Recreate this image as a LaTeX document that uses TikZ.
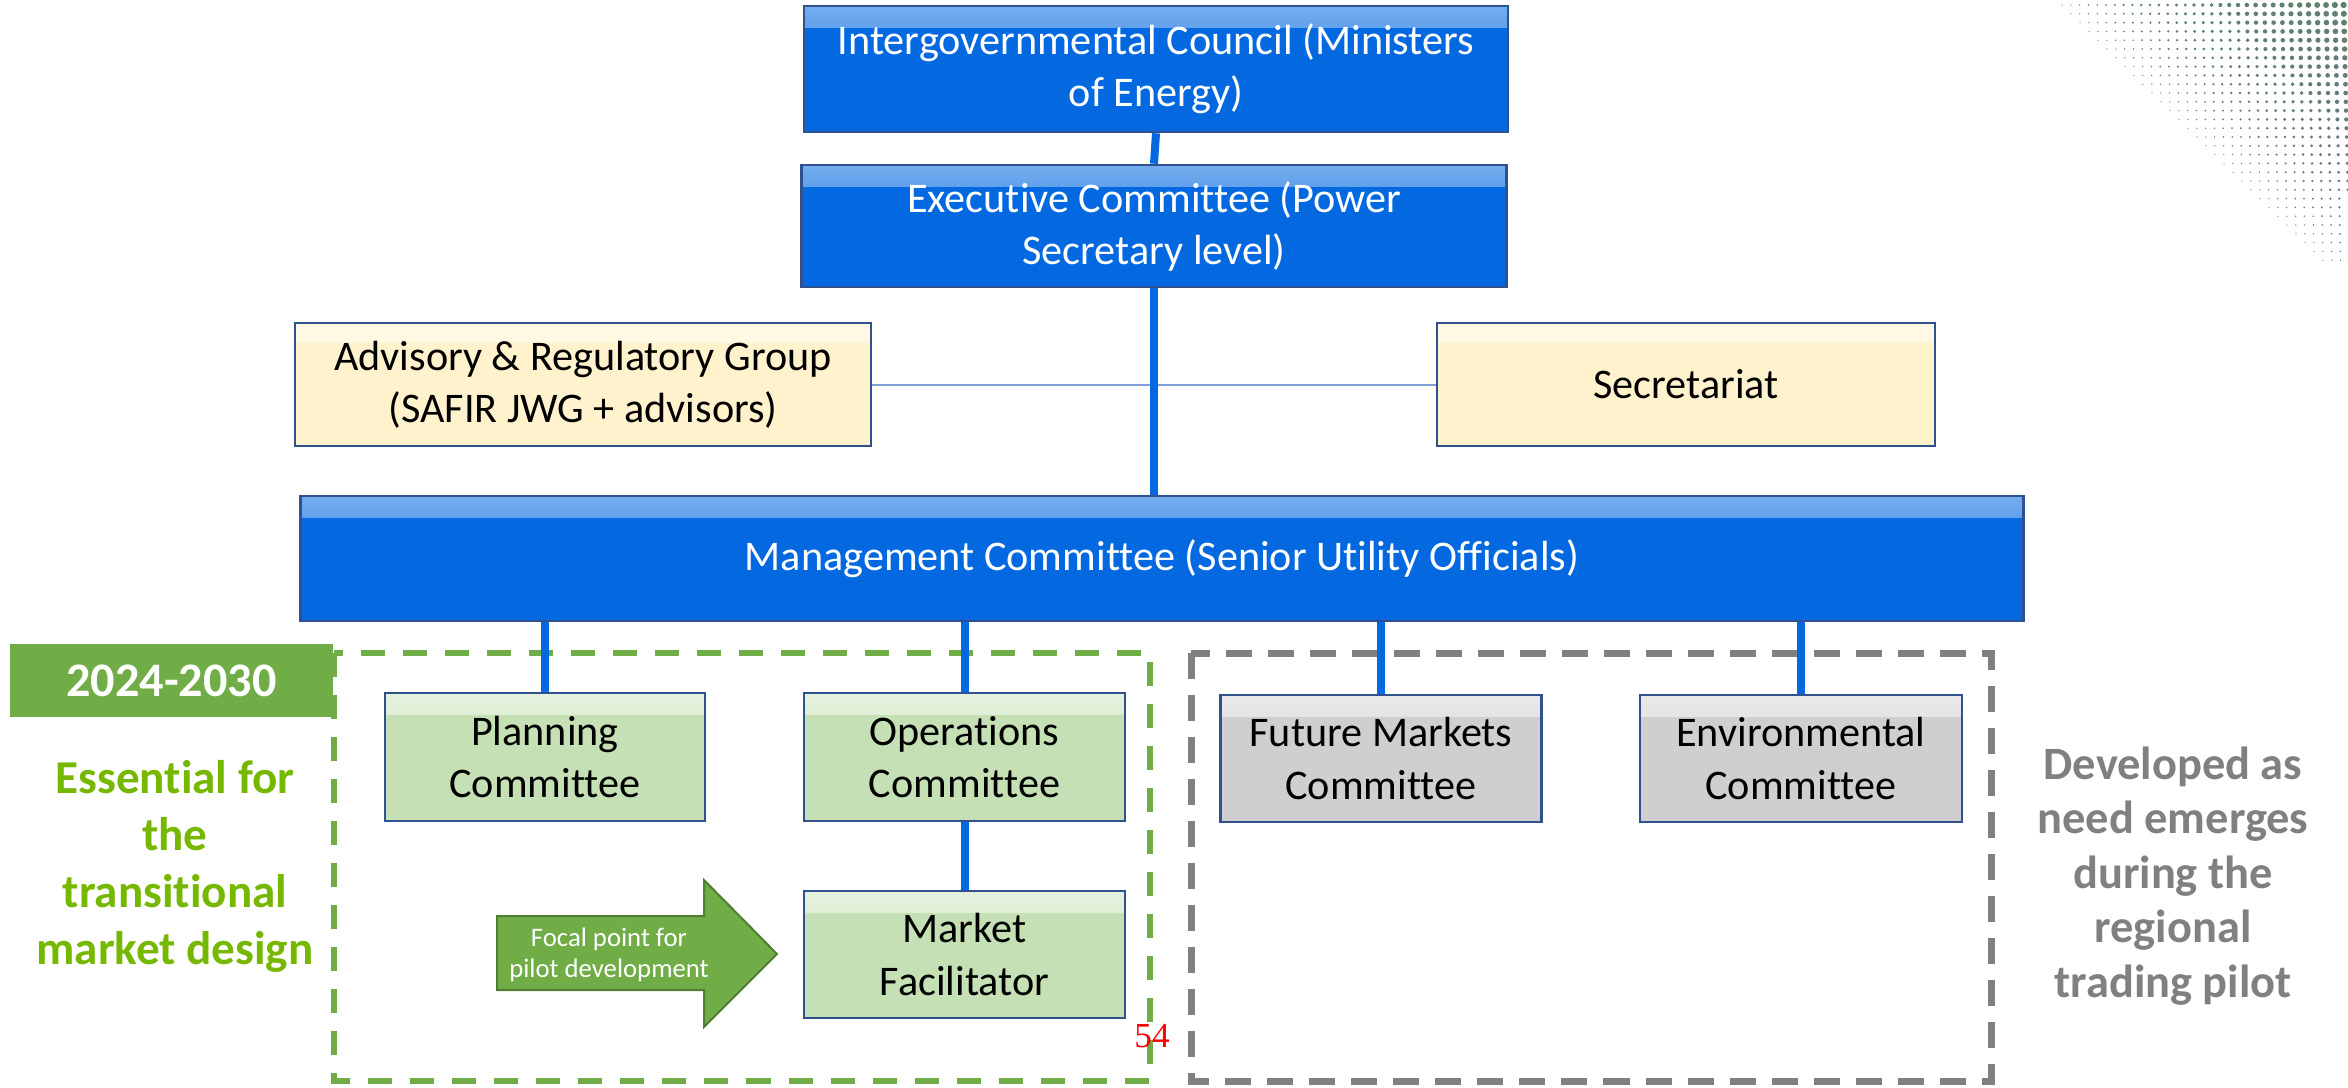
\documentclass[tikz,border=0pt]{standalone}
\usepackage{fontspec}
\setmainfont[Ligatures={CommonOff}]{Carlito}
\newfontfamily\pagenumfont{Liberation Serif}
\definecolor{mblue}{RGB}{4,105,224}
\definecolor{bdr}{RGB}{47,82,143}
\definecolor{yelf}{RGB}{255,242,204}
\definecolor{lgreen}{RGB}{197,224,180}
\definecolor{lgrey}{RGB}{208,206,206}
\definecolor{dgreen}{RGB}{112,173,71}
\definecolor{tgreen}{RGB}{118,184,0}
\definecolor{tgrey}{RGB}{128,128,128}
\definecolor{arrbdr}{RGB}{80,126,50}
\definecolor{thinc}{RGB}{125,158,215}
\definecolor{dotg}{RGB}{95,130,110}
\definecolor{dotb}{RGB}{110,115,150}
\tikzset{
  sz/.style 2 args={minimum width=#1cm, minimum height=#2cm},
  basebox/.style={draw=bdr, line width=0.025cm, align=center, inner sep=0pt,
    font=\fontsize{12}{14.8}\selectfont},
  bluebox/.style={basebox, fill=mblue, text=white,
    path picture={\shade[top color=mblue!55!white, bottom color=mblue]
      (path picture bounding box.north west) rectangle ([yshift=-0.22cm]path picture bounding box.north east);}},
  yelbox/.style={basebox, fill=yelf, text=black,
    path picture={\shade[top color=yelf!50!white, bottom color=yelf]
      (path picture bounding box.north west) rectangle ([yshift=-0.2cm]path picture bounding box.north east);}},
  greenbox/.style={basebox, fill=lgreen, text=black,
    path picture={\shade[top color=lgreen!45!white, bottom color=lgreen]
      (path picture bounding box.north west) rectangle ([yshift=-0.22cm]path picture bounding box.north east);}},
  greybox/.style={basebox, fill=lgrey, text=black,
    path picture={\shade[top color=lgrey!45!white, bottom color=lgrey]
      (path picture bounding box.north west) rectangle ([yshift=-0.22cm]path picture bounding box.north east);}},
  conn/.style={draw=mblue, line width=0.08cm},
  thinconn/.style={draw=thinc, line width=0.02cm},
  greenframe/.style={draw=dgreen, line width=0.06cm, dash pattern=on 0.24cm off 0.18cm},
  greyframe/.style={draw=tgrey, line width=0.07cm, dash pattern=on 0.26cm off 0.16cm},
}
\begin{document}
\begin{tikzpicture}[x=0.01cm,y=-0.01cm]
\useasboundingbox (0,0) rectangle (2348,1087);

% dotted pattern top right
\foreach \j in {0,...,29}{
  \pgfmathsetmacro\sx{2062+9*\j}
  \pgfmathtruncatemacro\nc{(2348-\sx)/8.8}
  \pgfmathtruncatemacro\mixv{100-3*\j}
  \foreach \i in {0,...,\nc}{
    \pgfmathsetmacro\rr{0.006+0.0008*\i}
    \fill[dotg!\mixv!dotb] (\sx+8.8*\i, 5+8.8*\j) circle[radius=\rr cm];
  }
}

% dashed frames
\draw[greenframe] (334,653) rectangle (1150,1081);
\draw[greyframe] (1191,653) rectangle (1991,1081);

% side labels
\node[fill=dgreen, minimum width=3.23cm, minimum height=0.73cm, inner sep=0pt,
  text=white, font=\bfseries\fontsize{13.7}{16}\selectfont] (period) at (171.5,680.5) {2024-2030};
\node[text=tgreen, align=center, font=\bfseries\fontsize{13.4}{16.2}\selectfont] (ess) at (175,866)
  {Essential for\\the\\transitional\\market design};
\node[text=tgrey, align=center, font=\bfseries\fontsize{13.2}{15.5}\selectfont] (dev) at (2173,876)
  {Developed as\\need emerges\\during the\\regional\\trading pilot};

% boxes
\node[bluebox, sz={7.04}{1.26}] (ic) at (1156,69) {Intergovernmental Council (Ministers\\of Energy)};
\node[bluebox, sz={7.05}{1.22}] (ec) at (1154,226) {Executive Committee (Power\\Secretary level)};
\node[yelbox, sz={5.76}{1.23}] (adv) at (583,384.5) {Advisory \& Regulatory Group\\(SAFIR JWG + advisors)};
\node[yelbox, sz={4.98}{1.23}] (sec) at (1686,384.5) {Secretariat};
\node[bluebox, sz={17.22}{1.25}] (mc) at (1162,558.5) {Management Committee (Senior Utility Officials)};
\node[greenbox, sz={3.20}{1.28}] (plan) at (545,757) {Planning\\Committee};
\node[greenbox, sz={3.21}{1.28}] (ops) at (964.5,757) {Operations\\Committee};
\node[greybox, sz={3.21}{1.27}] (fut) at (1381,758.5) {Future Markets\\Committee};
\node[greybox, sz={3.22}{1.27}] (env) at (1801,758.5) {Environmental\\Committee};
\node[greenbox, sz={3.21}{1.27}] (mf) at (964.5,954.5) {Market\\Facilitator};

% connectors
\draw[conn] (ic.south) -- (ec.north);
\draw[thinconn] (adv.east) -- (sec.west);
\draw[conn] (ec.south) -- (ec.south |- mc.north);
\draw[conn] (mc.south -| plan.north) -- (plan.north);
\draw[conn] (mc.south -| ops.north) -- (ops.north);
\draw[conn] (mc.south -| fut.north) -- (fut.north);
\draw[conn] (mc.south -| env.north) -- (env.north);
\draw[conn] (ops.south) -- (mf.north);

% focal point arrow
\filldraw[fill=dgreen, draw=arrbdr, line width=0.02cm]
  (497,916) -- (704,916) -- (704,880) -- (777,954) -- (704,1027) -- (704,990) -- (497,990) -- cycle;
\node[text=white, align=center, font=\fontsize{7.6}{8.8}\selectfont] (focal) at (609,955)
  {Focal point for\\pilot development};

% page number
\node[text=red, font=\pagenumfont\fontsize{10}{12}\selectfont, inner sep=0pt] (pnum) at (1152,1036) {54};
\end{tikzpicture}
\end{document}
